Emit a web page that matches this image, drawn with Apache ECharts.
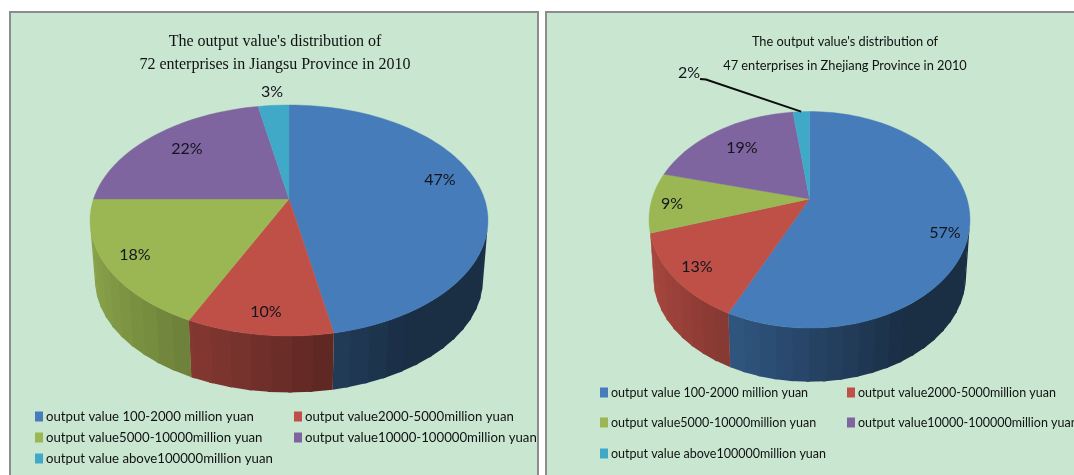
<!DOCTYPE html>
<html>
<head>
<meta charset="utf-8">
<style>
  html, body { margin: 0; padding: 0; background: #fff; overflow: hidden; }
  #left, #right { position: absolute; top: 0; height: 475px; }
  #left { left: 0; width: 541px; }
  #right { left: 541px; width: 533px; }
</style>
<script src="https://cdn.jsdelivr.net/npm/echarts@6/dist/echarts.min.js"></script>
</head>
<body>
<div id="left"></div>
<div id="right"></div>
<script>
var categories = [
  'output value 100-2000 million yuan',
  'output value2000-5000million yuan',
  'output value5000-10000million yuan',
  'output value10000-100000million yuan',
  'output value above100000million yuan'
]
var jiangsuValues = [47, 10, 18, 22, 3]
var zhejiangValues = [57, 13, 9, 19, 2]
var jiangsuTitle = "The output value's distribution of\n72 enterprises in Jiangsu Province in 2010"
var zhejiangTitle = "The output value's distribution of\n47 enterprises in Zhejiang Province in 2010"

var colors = ['#457cb9', '#be5047', '#9ab753', '#7f659f', '#40a9c8']
var bodyFont = 'Lato, "Liberation Sans", sans-serif'

// hex colour * factor, for the shaded side of the pie
function shade (hex, f) {
  var n = parseInt(hex.slice(1), 16)
  var r = Math.round((n >> 16 & 255) * f)
  var g = Math.round((n >> 8 & 255) * f)
  var b = Math.round((n & 255) * f)
  return 'rgb(' + r + ',' + g + ',' + b + ')'
}

function makeOption (p) {
  // perspective of the tilted disc, angle in degrees clockwise from 12 o'clock
  function rim (deg) {
    var a = deg * Math.PI / 180
    var u = Math.sin(a), v = -Math.cos(a)
    var w = 1 - p.k * v
    return [p.cx + p.a * u / w, p.cy + p.b * v / w]
  }
  function floor (pt) {
    return [p.cx + (pt[0] - p.cx) * 0.975, p.cy + p.depth + (pt[1] - p.cy) * 0.975]
  }

  var total = p.values.reduce(function (s, v) { return s + v }, 0)
  var seen = 0
  var series = p.values.map(function (value, i) {
    var start = seen / total * 360
    seen += value
    var end = seen / total * 360
    return {
      name: categories[i],
      type: 'custom',
      coordinateSystem: 'none',
      silent: true,
      itemStyle: { color: colors[i] },
      data: [[value]],
      renderItem: function (params, api) {
        var children = []
        var step = 5
        // side wall, only the part facing the viewer. strips overlap a bit so no seams
        for (var d = start; d < end; d += step) {
          var e = Math.min(d + step, end)
          var mid = (d + e) / 2 * Math.PI / 180
          if (Math.cos(mid) > -0.28) continue
          var f = Math.max(0.37, 0.55 - 0.35 * Math.sin(mid))
          var t1 = rim(d), t2 = rim(Math.min(e + 1, end))
          children.push({
            type: 'polygon',
            shape: { points: [t1, t2, floor(t2), floor(t1)] },
            style: { fill: shade(colors[i], f) }
          })
        }
        // top face
        var pts = [[p.cx, p.cy]]
        var n = Math.max(2, Math.ceil((end - start) / 2))
        for (var j = 0; j <= n; j++) pts.push(rim(start + (end - start) * j / n))
        children.push({
          type: 'polygon',
          z2: 5,
          shape: { points: pts },
          style: { fill: colors[i], stroke: colors[i], lineWidth: 0.4 }
        })
        // leader line for the small slice
        if (p.leader && p.leader.index === i) {
          children.push({
            type: 'polyline',
            z2: 6,
            shape: { points: p.leader.points.concat([rim((start + end) / 2)]) },
            style: { fill: null, stroke: '#0c0c0c', lineWidth: 2 }
          })
        }
        children.push({
          type: 'text',
          z2: 7,
          style: {
            text: api.value(0) + '%',
            x: p.labels[i][0],
            y: p.labels[i][1],
            align: 'center',
            verticalAlign: 'middle',
            fill: '#14141c',
            font: p.labelSize + 'px ' + bodyFont
          }
        })
        return { type: 'group', children: children }
      }
    }
  })

  return {
    animation: false,
    graphic: [{
      type: 'rect',
      z: -1,
      shape: p.panel,
      style: { fill: '#c9e6d1', stroke: '#8c8c8c', lineWidth: 2 }
    }],
    title: {
      text: p.title,
      left: p.titleX,
      top: p.titleY,
      padding: 0,
      textAlign: 'center',
      textStyle: {
        fontFamily: p.titleFont,
        fontSize: p.titleSize,
        fontWeight: 'normal',
        color: '#111',
        lineHeight: p.titleLine
      }
    },
    legend: categories.map(function (name, i) {
      return {
        data: [name],
        left: p.legendX[i % 2],
        top: p.legendY[Math.floor(i / 2)],
        padding: 0,
        icon: 'rect',
        itemWidth: 8,
        itemHeight: 10,
        selectedMode: false,
        textStyle: {
          fontFamily: bodyFont,
          fontSize: p.legendSize,
          color: '#111',
          padding: [0, 0, 0, -2]
        }
      }
    }),
    series: series
  }
}

var t1 = echarts.init(document.getElementById('left'))
var t2 = echarts.init(document.getElementById('right'))

t1.setOption(makeOption({
  values: jiangsuValues,
  title: jiangsuTitle,
  panel: { x: 10, y: 12, width: 528, height: 480 },
  cx: 289, cy: 199, a: 195.5, b: 111.5, k: 0.186, depth: 60,
  titleX: 275, titleY: 30, titleSize: 16, titleLine: 23, titleFont: '"Liberation Serif", serif',
  labelSize: 16,
  labels: [[440, 180], [266, 312], [135, 255], [187, 149], [272, 92]],
  legendX: [35, 294],
  legendY: [410, 431, 452],
  legendSize: 13.2
}))

t2.setOption(makeOption({
  values: zhejiangValues,
  title: zhejiangTitle,
  panel: { x: 5, y: 12, width: 560, height: 480 },
  cx: 268.5, cy: 199, a: 157.5, b: 104.3, k: 0.192, depth: 57,
  titleX: 304, titleY: 30, titleSize: 12.8, titleLine: 24, titleFont: bodyFont,
  labelSize: 16,
  labels: [[404, 233], [156, 267], [131, 204], [201, 148], [148, 73]],
  leader: { index: 4, points: [[159, 79], [165, 79.5]] },
  legendX: [59, 306],
  legendY: [386, 416, 447],
  legendSize: 12.5
}))

window.addEventListener('resize', function () {
  t1.resize()
  t2.resize()
})
</script>
</body>
</html>
